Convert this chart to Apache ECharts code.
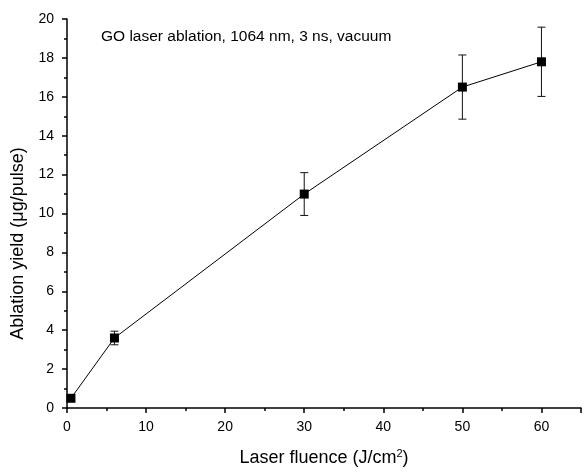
<!DOCTYPE html>
<html>
<head>
<meta charset="utf-8">
<script src="https://cdn.jsdelivr.net/npm/echarts@6/dist/echarts.min.js"></script>
<style>
  html, body { margin: 0; padding: 0; background: #fff; }
  #chart { width: 584px; height: 472px; }
</style>
</head>
<body>
<div id="chart"></div>
<script>
// data
var fluence = [0.5, 6, 30, 50, 60];
var yieldVals = [0.5, 3.6, 11.0, 16.5, 17.8];
var yieldErr = [0.1, 0.35, 1.1, 1.65, 1.78];
var titleText = 'GO laser ablation, 1064 nm, 3 ns, vacuum';

var pts = [];
var bars = [];
for (var i = 0; i < fluence.length; i++) {
    pts.push([fluence[i], yieldVals[i]]);
    bars.push([fluence[i], yieldVals[i] - yieldErr[i], yieldVals[i] + yieldErr[i]]);
}

var myChart = echarts.init(document.getElementById('chart'));
var font = 'Liberation Sans, Arial, sans-serif';
var option = {
    animation: false,
    title: {
        text: titleText,
        left: 96,
        top: 24,
        textStyle: { fontFamily: font, fontSize: 15.5, fontWeight: 'normal', color: '#000' }
    },
    grid: { left: 67, right: 0, top: 19, bottom: 64 },
    xAxis: {
        type: 'value',
        min: 0,
        max: 65,
        interval: 10,
        name: 'Laser fluence (J/cm{sup|2})',
        nameLocation: 'middle',
        nameGap: 40,
        nameTextStyle: {
            fontFamily: font, fontSize: 18, color: '#000',
            rich: { sup: { fontSize: 11, verticalAlign: 'top', padding: [0, 0, 9, 0], fontFamily: font, color: '#000' } }
        },
        splitLine: { show: false },
        axisLine: { lineStyle: { color: '#000', width: 1.5 } },
        axisTick: { inside: false, length: 5, lineStyle: { color: '#000', width: 1.5 } },
        minorTick: { show: true, splitNumber: 2, length: 3, lineStyle: { color: '#000', width: 1.5 } },
        axisLabel: {
            fontFamily: font, fontSize: 14, color: '#000', margin: 12,
            formatter: function (v) { return v > 60 ? '' : v; }
        }
    },
    yAxis: {
        type: 'value',
        min: 0,
        max: 20,
        interval: 2,
        name: 'Ablation yield (μg/pulse)',
        nameLocation: 'middle',
        nameGap: 38,
        nameTextStyle: { fontFamily: font, fontSize: 18, color: '#000', padding: [0, 60, 0, 0] },
        splitLine: { show: false },
        axisLine: { lineStyle: { color: '#000', width: 1.5 } },
        axisTick: { inside: false, length: 5, lineStyle: { color: '#000', width: 1.5 } },
        minorTick: { show: true, splitNumber: 2, length: 3, lineStyle: { color: '#000', width: 1.5 } },
        axisLabel: { fontFamily: font, fontSize: 14, color: '#000', margin: 13 }
    },
    series: [
        {
            type: 'custom',
            data: bars,
            z: 1,
            renderItem: function (params, api) {
                var x = api.value(0);
                var lo = api.coord([x, api.value(1)]);
                var hi = api.coord([x, api.value(2)]);
                var w = 4;
                var st = { stroke: '#111', lineWidth: 1 };
                return {
                    type: 'group',
                    children: [
                        { type: 'line', shape: { x1: hi[0], y1: hi[1], x2: lo[0], y2: lo[1] }, style: st },
                        { type: 'line', shape: { x1: hi[0] - w, y1: hi[1], x2: hi[0] + w, y2: hi[1] }, style: st },
                        { type: 'line', shape: { x1: lo[0] - w, y1: lo[1], x2: lo[0] + w, y2: lo[1] }, style: st }
                    ]
                };
            }
        },
        {
            type: 'line',
            data: pts,
            z: 2,
            symbol: 'rect',
            symbolSize: 9,
            itemStyle: { color: '#000' },
            lineStyle: { color: '#000', width: 1 }
        }
    ]
};
myChart.setOption(option);
</script>
</body>
</html>
